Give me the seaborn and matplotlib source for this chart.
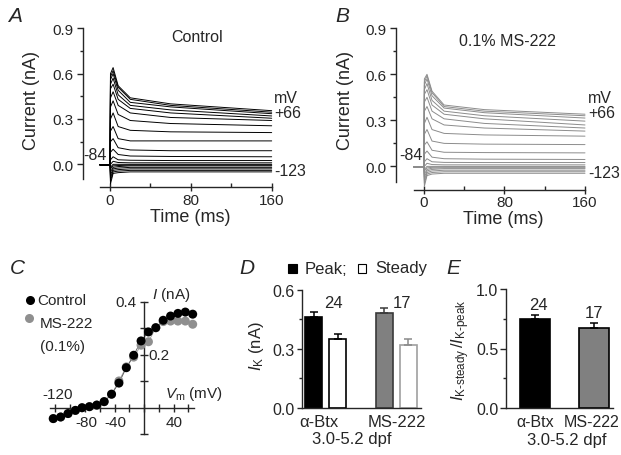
import numpy as np
import pandas as pd
import matplotlib
matplotlib.use("Agg")
import matplotlib.pyplot as plt
from matplotlib.patches import Rectangle
from matplotlib.ticker import MultipleLocator, FixedLocator
import seaborn as sns

sns.set_style("ticks")
plt.rcParams['font.family'] = ['Liberation Sans', 'DejaVu Sans']
plt.rcParams['mathtext.fontset'] = 'custom'
plt.rcParams['mathtext.rm'] = 'Liberation Sans'
plt.rcParams['mathtext.it'] = 'Liberation Sans:italic'
plt.rcParams['axes.linewidth'] = 1.0

# ---------------- data ----------------
step_mV = [-123, -113, -103, -93, -84, -74, -64, -54, -44, -34,
           -24, -14, -4, 6, 16, 26, 36, 46, 56, 66]
hold_t = [-10, 0]
hold_I = -0.003
trace_t = [0.4, 3, 8, 20, 60, 160]

# Control traces (nA) at trace_t, one value per step
ctrl_t04 = [-0.13, -0.11, -0.09, -0.07, -0.05, -0.03, -0.02, 0.0, 0.03, 0.08,
            0.15, 0.22, 0.30, 0.38, 0.44, 0.50, 0.53, 0.56, 0.58, 0.60]
ctrl_t3 = [-0.06, -0.05, -0.04, -0.03, -0.02, -0.01, 0.0, 0.02, 0.05, 0.10,
           0.17, 0.25, 0.34, 0.42, 0.48, 0.53, 0.57, 0.60, 0.62, 0.64]
ctrl_t8 = [-0.055, -0.045, -0.035, -0.025, -0.015, -0.008, 0.0, 0.012, 0.03, 0.065,
           0.11, 0.17, 0.25, 0.33, 0.39, 0.43, 0.46, 0.49, 0.51, 0.52]
ctrl_t20 = [-0.05, -0.04, -0.03, -0.02, -0.01, -0.005, 0.0, 0.01, 0.027, 0.055,
            0.095, 0.155, 0.225, 0.29, 0.34, 0.37, 0.39, 0.41, 0.43, 0.44]
ctrl_t60 = [-0.05, -0.04, -0.03, -0.02, -0.01, -0.005, 0.0, 0.01, 0.025, 0.052,
            0.09, 0.155, 0.215, 0.27, 0.31, 0.34, 0.36, 0.38, 0.39, 0.40]
ctrl_t160 = [-0.05, -0.04, -0.03, -0.02, -0.01, -0.005, 0.0, 0.01, 0.025, 0.05,
             0.09, 0.155, 0.21, 0.255, 0.29, 0.305, 0.32, 0.335, 0.345, 0.355]

# MS-222 traces
ms_t04 = [-0.13, -0.11, -0.09, -0.07, -0.05, -0.03, -0.02, 0.0, 0.03, 0.08,
          0.14, 0.21, 0.28, 0.36, 0.42, 0.47, 0.50, 0.53, 0.55, 0.57]
ms_t3 = [-0.06, -0.05, -0.04, -0.03, -0.02, -0.01, 0.0, 0.02, 0.05, 0.10,
         0.16, 0.24, 0.32, 0.39, 0.45, 0.50, 0.54, 0.57, 0.59, 0.60]
ms_t8 = [-0.05, -0.04, -0.03, -0.02, -0.012, -0.006, 0.0, 0.012, 0.03, 0.06,
         0.105, 0.165, 0.24, 0.31, 0.36, 0.40, 0.43, 0.46, 0.48, 0.49]
ms_t20 = [-0.045, -0.035, -0.025, -0.015, -0.01, -0.005, 0.0, 0.01, 0.026, 0.05,
          0.092, 0.15, 0.215, 0.27, 0.31, 0.34, 0.36, 0.38, 0.39, 0.40]
ms_t60 = [-0.045, -0.035, -0.025, -0.015, -0.01, -0.005, 0.0, 0.01, 0.025, 0.047,
          0.09, 0.145, 0.205, 0.25, 0.28, 0.31, 0.33, 0.35, 0.36, 0.37]
ms_t160 = [-0.045, -0.035, -0.025, -0.015, -0.01, -0.005, 0.0, 0.01, 0.025, 0.045,
           0.088, 0.142, 0.197, 0.23, 0.25, 0.27, 0.295, 0.315, 0.33, 0.34]

# I-V (panel C)
iv_ctrl = [-0.040, -0.034, -0.021, -0.009, 0.001, 0.005, 0.011, 0.024, 0.052, 0.094,
           0.152, 0.199, 0.253, 0.287, 0.303, 0.331, 0.347, 0.357, 0.362, 0.354]
iv_ms = [-0.040, -0.034, -0.021, -0.009, 0.001, 0.005, 0.011, 0.024, 0.052, 0.102,
         0.155, 0.192, 0.237, 0.250, 0.303, 0.326, 0.328, 0.328, 0.328, 0.316]

# Panel D
d_group = ['α-Btx', 'α-Btx', 'MS-222', 'MS-222']
d_kind = ['Peak', 'Steady', 'Peak', 'Steady']
d_mean = [0.464, 0.351, 0.481, 0.320]
d_sem = [0.023, 0.022, 0.026, 0.031]
d_n = ['24', '17']

# Panel E
e_group = ['α-Btx', 'MS-222']
e_ratio = [0.748, 0.670]
e_sem = [0.032, 0.042]
e_n = ['24', '17']

# ---------------- figure ----------------
W, H = 621, 456
fig = plt.figure(figsize=(W / 100, H / 100), dpi=100)

FS_TICK = 11
FS_LAB = 13
FS_ANN = 11.5


def px_axes(l, r, top, bot):
    return fig.add_axes([l / W, 1 - bot / H, (r - l) / W, (bot - top) / H])


def ftxt(x, y, s, ha='center', va='center', **kw):
    kw.setdefault('fontsize', FS_ANN)
    return fig.text(x / W, 1 - y / H, s, ha=ha, va=va, **kw)


def traces_df(cols):
    rows = []
    for i, v in enumerate(step_mV):
        ts = hold_t + trace_t
        vals = [hold_I, hold_I] + [c[i] for c in cols]
        for t, val in zip(ts, vals):
            rows.append((v, t, val))
    return pd.DataFrame(rows, columns=['mV', 't', 'I'])


def trace_axes(ax, df, color):
    sns.lineplot(data=df, x='t', y='I', units='mV', estimator=None, sort=False,
                 color=color, lw=0.7, ax=ax, legend=False)
    ax.set_ylim(-0.152, 0.9)
    ax.spines['left'].set_bounds(-0.1, 0.9)
    ax.spines['bottom'].set_bounds(-10, 160)
    for s in ['top', 'right']:
        ax.spines[s].set_visible(False)
    ax.set_yticks([0, 0.3, 0.6, 0.9])
    ax.set_yticklabels(['0.0', '0.3', '0.6', '0.9'])
    ax.yaxis.set_minor_locator(FixedLocator([0.15, 0.45, 0.75]))
    ax.set_xticks([0, 80, 160])
    ax.xaxis.set_minor_locator(FixedLocator([40, 120]))
    ax.tick_params(axis='y', which='major', direction='out', length=4, width=1,
                   pad=2.5, labelsize=FS_TICK)
    ax.tick_params(axis='y', which='minor', direction='out', length=2.5, width=1)
    ax.tick_params(axis='x', which='major', direction='inout', length=6, width=1,
                   pad=1, labelsize=FS_TICK)
    ax.tick_params(axis='x', which='minor', direction='in', length=3, width=1)
    ax.set_xlabel('')
    ax.set_ylabel('')
    ax.patch.set_alpha(0)


# Panel A
axA = px_axes(82.7, 272.5, 29.3, 188.3)
trace_axes(axA, traces_df([ctrl_t04, ctrl_t3, ctrl_t8, ctrl_t20, ctrl_t60, ctrl_t160]), 'black')
axA.set_xlim(-27.1, 160.8)
ftxt(15, 16, 'A', fontsize=15, style='italic')
ftxt(197, 37, 'Control')
ftxt(274, 99, 'mV', ha='left')
ftxt(274, 114, '+66', ha='left')
ftxt(274, 172, '-123', ha='left')
ftxt(95, 156, '-84')
ftxt(32, 100, 'Current (nA)', rotation=90, fontsize=FS_LAB)
ftxt(190, 218, 'Time (ms)', fontsize=FS_LAB)

# Panel B
axB = px_axes(396, 586, 29.3, 190.7)
trace_axes(axB, traces_df([ms_t04, ms_t3, ms_t8, ms_t20, ms_t60, ms_t160]), '#8c8c8c')
axB.set_xlim(-27.8, 161)
ftxt(342, 16, 'B', fontsize=15, style='italic')
ftxt(507, 41, '0.1% MS-222')
ftxt(588, 99, 'mV', ha='left')
ftxt(588, 114, '+66', ha='left')
ftxt(588, 174, '-123', ha='left')
ftxt(411, 156, '-84')
ftxt(346, 100, 'Current (nA)', rotation=90, fontsize=FS_LAB)
ftxt(503, 220, 'Time (ms)', fontsize=FS_LAB)

# Panel C
axC = px_axes(20, 200, 290, 440)
dfC = pd.DataFrame({'mV': step_mV * 2, 'I': iv_ms + iv_ctrl,
                    'cond': ['MS-222'] * len(step_mV) + ['Control'] * len(step_mV)})
sns.lineplot(data=dfC, x='mV', y='I', hue='cond', palette={'MS-222': '#9a9a9a', 'Control': '#555555'},
             lw=0.6, ax=axC, legend=False, sort=False, estimator=None)
sns.scatterplot(data=dfC[dfC.cond == 'MS-222'], x='mV', y='I', color='#8f8f8f', s=42,
                edgecolor='none', ax=axC, legend=False, zorder=3)
sns.scatterplot(data=dfC[dfC.cond == 'Control'], x='mV', y='I', color='black', s=42,
                edgecolor='none', ax=axC, legend=False, zorder=4)
axC.set_xlim(-168.1, 75.9)
axC.set_ylim(-0.117, 0.449)
axC.spines['left'].set_position(('data', 0))
axC.spines['bottom'].set_position(('data', 0))
axC.spines['left'].set_bounds(-0.1, 0.4)
axC.spines['bottom'].set_bounds(-128, 68)
for s in ['top', 'right']:
    axC.spines[s].set_visible(False)
axC.set_xticks(list(range(-120, 61, 20)))
axC.set_yticks([-0.1, 0.1, 0.2, 0.3, 0.4])
axC.set_xticklabels([])
axC.set_yticklabels([])
axC.tick_params(axis='both', direction='inout', length=6, width=1)
axC.set_xlabel('')
axC.set_ylabel('')
axC.patch.set_alpha(0)
ftxt(17, 268, 'C', fontsize=15, style='italic')
ftxt(58, 395, '-120', fontsize=11)
ftxt(86, 423, '-80', fontsize=11)
ftxt(115, 423, '-40', fontsize=11)
ftxt(174, 423, '40', fontsize=11)
ftxt(137, 303, '0.4', ha='right', fontsize=11)
ftxt(148, 356, '0.2', ha='left', fontsize=11)
ftxt(152, 295, r'$I$ (nA)', ha='left', fontsize=11)
ftxt(165, 394, r'$V_{\rm m}$ (mV)', ha='left', fontsize=11)
fig.lines.append(plt.Line2D([30 / W], [1 - 301 / H], marker='o', color='black', ms=6.5,
                            mec='none', transform=fig.transFigure))
fig.lines.append(plt.Line2D([29 / W], [1 - 319 / H], marker='o', color='#8f8f8f', ms=6.5,
                            mec='none', transform=fig.transFigure))
ftxt(37, 301, 'Control', ha='left', fontsize=11)
ftxt(40, 324, 'MS-222', ha='left', fontsize=11)
ftxt(40, 347, '(0.1%)', ha='left', fontsize=11)

# Panel D
axD = px_axes(301.7, 421, 290.7, 409)
dfD = pd.DataFrame({'group': d_group, 'kind': d_kind, 'I': d_mean})
sns.barplot(data=dfD, x='group', y='I', hue='kind', width=0.68, gap=0.29,
            palette={'Peak': 'black', 'Steady': 'white'}, errorbar=None,
            ax=axD, legend=False, linewidth=1.2)
bars = sorted(axD.patches, key=lambda p: p.get_x())
face = ['black', 'white', '#808080', 'white']
edge = ['black', 'black', '#3a3a3a', '#a0a0a0']
ecol = ['black', 'black', '#3a3a3a', '#8a8a8a']
for b, fc, ec in zip(bars, face, edge):
    b.set_facecolor(fc)
    b.set_edgecolor(ec)
    b.set_linewidth(1.2)
xs = [b.get_x() + b.get_width() / 2 for b in bars]
for x, m, e, c in zip(xs, d_mean, d_sem, ecol):
    axD.errorbar([x], [m], yerr=[[0], [e]], fmt='none', ecolor=c, elinewidth=1.1,
                 capsize=2.6, capthick=1.1, zorder=1)
axD.set_xlim(-0.338, 1.354)
axD.set_ylim(0, 0.6)
axD.set_yticks([0, 0.3, 0.6])
axD.set_yticklabels(['0.0', '0.3', '0.6'])
axD.yaxis.set_minor_locator(FixedLocator([0.15, 0.45]))
axD.set_xticks([-0.09, 1.01])
axD.set_xticklabels(['α-Btx', 'MS-222'])
axD.tick_params(axis='y', which='major', direction='out', length=3.5, width=1, pad=1.5, labelsize=11.5)
axD.tick_params(axis='y', which='minor', direction='out', length=2.5, width=1)
axD.tick_params(axis='x', length=0, pad=4, labelsize=12)
for s in ['top', 'right']:
    axD.spines[s].set_visible(False)
axD.set_xlabel('')
axD.set_ylabel('')
axD.patch.set_alpha(0)
ftxt(247, 268, 'D', fontsize=15, style='italic')
ftxt(333, 304, d_n[0], fontsize=12)
ftxt(402, 304, d_n[1], fontsize=12)
ftxt(352, 440, '3.0-5.2 dpf', fontsize=12)
ftxt(256, 346, r'$I_{\rm K}$ (nA)', rotation=90, fontsize=12)
fig.patches.append(Rectangle((288 / W, 1 - 274 / H), 8.5 / W, 9 / H, facecolor='black',
                             edgecolor='black', lw=0.8, transform=fig.transFigure))
fig.patches.append(Rectangle((358 / W, 1 - 274 / H), 8.5 / W, 9 / H, facecolor='white',
                             edgecolor='black', lw=0.8, transform=fig.transFigure))
ftxt(305, 269, 'Peak;', ha='left', fontsize=12)
ftxt(375, 269, 'Steady', ha='left', fontsize=12)

# Panel E
axE = px_axes(506, 613, 290, 409)
dfE = pd.DataFrame({'group': e_group, 'ratio': e_ratio})
sns.barplot(data=dfE, x='group', y='ratio', hue='group', width=0.506,
            palette={'α-Btx': 'black', 'MS-222': '#808080'}, errorbar=None,
            ax=axE, legend=False, edgecolor='black', linewidth=1.2)
barsE = sorted(axE.patches, key=lambda p: p.get_x())
for b in barsE:
    b.set_edgecolor('black')
xsE = [b.get_x() + b.get_width() / 2 for b in barsE]
for x, m, e in zip(xsE, e_ratio, e_sem):
    axE.errorbar([x], [m], yerr=[[0], [e]], fmt='none', ecolor='black', elinewidth=1.1,
                 capsize=2.8, capthick=1.1, zorder=1)
axE.set_xlim(-0.489, 1.315)
axE.set_ylim(0, 1.0)
axE.set_yticks([0, 0.5, 1.0])
axE.set_yticklabels(['0.0', '0.5', '1.0'])
axE.yaxis.set_minor_locator(FixedLocator([0.25, 0.75]))
axE.set_xticks([0, 0.96])
axE.set_xticklabels(e_group)
axE.tick_params(axis='y', which='major', direction='out', length=4, width=1, pad=1.5, labelsize=11.5)
axE.tick_params(axis='y', which='minor', direction='out', length=2.5, width=1)
axE.tick_params(axis='x', length=0, pad=4, labelsize=11.5)
for s in ['top', 'right']:
    axE.spines[s].set_visible(False)
axE.set_xlabel('')
axE.set_ylabel('')
axE.patch.set_alpha(0)
ftxt(453, 268, 'E', fontsize=15, style='italic')
ftxt(538, 306, e_n[0], fontsize=12)
ftxt(594, 314, e_n[1], fontsize=12)
ftxt(567, 441, '3.0-5.2 dpf', fontsize=12)
ftxt(461, 350, r'$I_{\rm K\text{-}steady}\,/I_{\rm K\text{-}peak}$', rotation=90, fontsize=12)

fig.savefig('out.png', dpi=100)
